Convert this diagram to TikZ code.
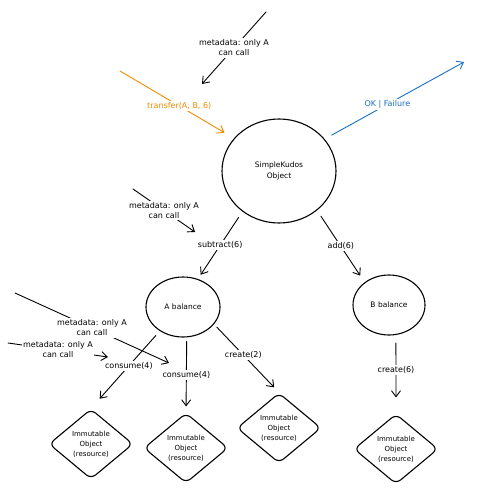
\documentclass[tikz,border=0pt]{standalone}
\usepackage{fontspec}
\setmainfont{DejaVu Sans}
\usetikzlibrary{arrows.meta,shapes.geometric}
\definecolor{exorange}{HTML}{F08C00}
\definecolor{exblue}{HTML}{1971C2}
\begin{document}
\begin{tikzpicture}[x=1pt,y=-1pt,
  conn/.style={line width=0.9pt, line cap=round, -{Straight Barb[length=6pt,width=9pt,line width=0.9pt]}},
  lbl/.style={fill=white, inner sep=1.5pt, font=\fontsize{8}{10}\selectfont, align=center},
  obj/.style={draw, ellipse, line width=1.1pt, inner sep=0pt, align=center, font=\fontsize{7.5}{10.5}\selectfont},
  res/.style={draw, diamond, rounded corners=6pt, line width=1.1pt, minimum width=84pt, minimum height=70pt, inner sep=0pt, align=center, font=\fontsize{7}{10}\selectfont}
]
\useasboundingbox[fill=white] (0,0) rectangle (500,500);

% objects
\node[obj, minimum width=114pt, minimum height=104pt] (sk) at (279,171) {SimpleKudos\\Object};
\node[obj, minimum width=74pt, minimum height=60pt] (ab) at (183,307) {A balance};
\node[obj, minimum width=72pt, minimum height=60pt] (bb) at (389,305) {B balance};
\node[res] (d1) at (91,444) {Immutable\\Object\\(resource)};
\node[res] (d2) at (186,448) {Immutable\\Object\\(resource)};
\node[res] (d3) at (279,428) {Immutable\\Object\\(resource)};
\node[res] (d4) at (396,449) {Immutable\\Object\\(resource)};

% free ends
\coordinate (m1a) at (266,12);
\coordinate (m1b) at (202,84);
\coordinate (ts) at (120,71);
\coordinate (ok) at (464,62);
\coordinate (m2a) at (133,189);
\coordinate (m2b) at (195,232);
\coordinate (m3a) at (15,293);
\coordinate (m3b) at (169,363);
\coordinate (m4a) at (8,343);
\coordinate (m4b) at (108,357);

% metadata arrows
\draw[conn] (m1a) -- node[lbl] {metadata: only A\\can call} (m1b);
\draw[conn] (m2a) -- node[lbl] {metadata: only A\\can call} (m2b);
\draw[conn] (m3a) -- node[lbl] {metadata: only A\\can call} (m3b);
\draw[conn] (m4a) -- node[lbl] {metadata: only A\\can call} (m4b);

% call and result
\draw[conn, exorange, shorten >=11pt] (ts) -- node[lbl, text=exorange, pos=0.52] {transfer(A, B, 6)} (sk.144);
\draw[conn, exblue, shorten <=8pt] (sk.35) -- node[lbl, text=exblue, pos=0.45] {OK | Failure} (ok);

% balances
\draw[conn, shorten <=7pt, shorten >=5pt] (sk.228) -- node[lbl] {subtract(6)} (ab.62);
\draw[conn, shorten <=7pt, shorten >=8pt] (sk.314) -- node[lbl] {add(6)} (bb.137);

% resources
\draw[conn, shorten <=6pt, shorten >=13pt] (ab.226) -- node[lbl, pos=0.45] {consume(4)} (d1.north);
\draw[conn, shorten <=4pt, shorten >=6pt] (ab.277) -- node[lbl] {consume(4)} (d2.north);
\draw[conn, shorten <=4pt, shorten >=7pt] (ab.331) -- node[lbl, pos=0.45] {create(2)} (d3.north);
\draw[conn, shorten <=8pt, shorten >=16pt] (bb.283) -- node[lbl, pos=0.45] {create(6)} (d4.north);
\end{tikzpicture}
\end{document}
